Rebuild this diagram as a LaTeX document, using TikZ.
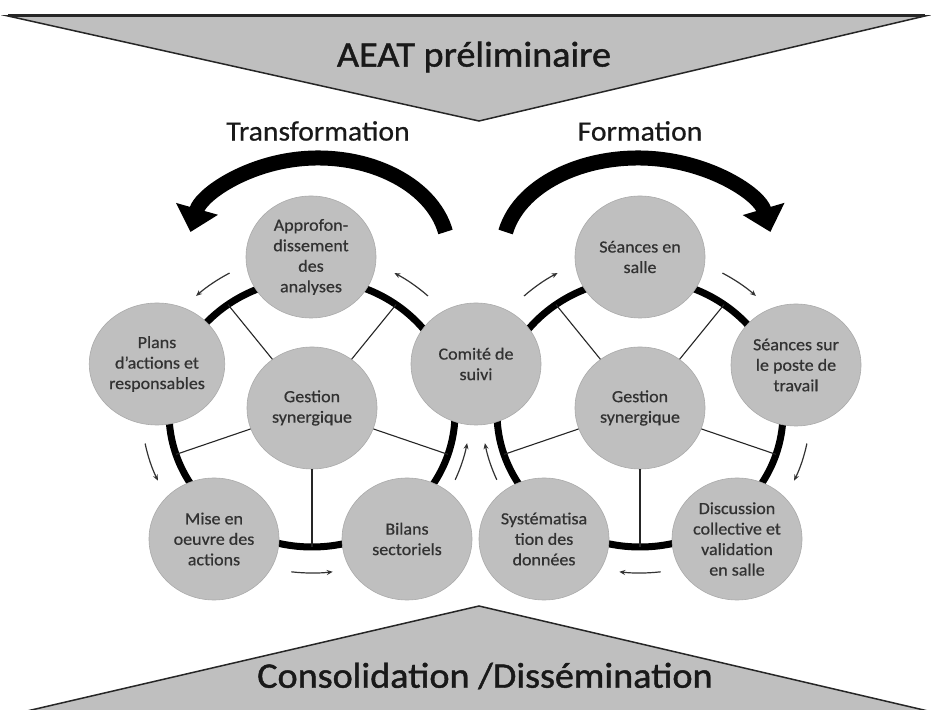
\documentclass[tikz,border=0pt]{standalone}
\usepackage{fontspec}
\setmainfont{Carlito}[FakeStretch=1.06]
\newfontfamily\heavyfont{Carlito}[FakeStretch=1.06,FakeBold=1.2,Ligatures=TeX]
\newfontfamily\midfont{Carlito}[FakeStretch=1.06,FakeBold=0.6,Ligatures=TeX]
\usetikzlibrary{shapes.geometric,arrows.meta}
\definecolor{nodefill}{RGB}{191,191,191}
\definecolor{nodeline}{RGB}{170,170,170}
\definecolor{txt}{RGB}{50,50,50}
\definecolor{titlec}{RGB}{25,25,25}
\begin{document}
\begin{tikzpicture}[x=1pt,y=1pt,
  bub/.style={ellipse, fill=nodefill, draw=nodeline, line width=0.6pt,
    minimum width=130pt, minimum height=122pt, inner sep=0pt, align=center,
    text=txt, font=\midfont\fontsize{17}{20.5}\selectfont},
  ringline/.style={line width=7pt, black},
  spoke/.style={line width=1.1pt, black!85},
  flow/.style={line width=1.2pt, black!80, -{Stealth[length=6pt,width=5pt]}},
  bigarrow/.style={line width=15pt, -{Triangle[length=24pt,width=42pt]}},
  banner/.style={fill=nodefill, draw=black!85, line width=1.5pt, line join=miter},
  bannertext/.style={text=titlec, font=\heavyfont\fontsize{36}{40}\selectfont},
  headtext/.style={text=titlec, font=\midfont\fontsize{28}{32}\selectfont}
]
\useasboundingbox (0,0) rectangle (931,709);
\clip (0,0) rectangle (931,709);
\fill[white] (0,0) rectangle (931,709);

% banners
\draw[banner] (8,693) -- (925,693) -- (479,588) -- cycle;
\draw[line width=3pt, black!85] (8,693) -- (925,693);
\node[bannertext] (aeat) at (474,652) {AEAT préliminaire};
\draw[banner] (27,-2) -- (479,103) -- (928,-2) -- cycle;
\node[bannertext] (cons) at (485,33) {Consolidation /Dissémination};

% headings
\node[headtext] (trans) at (318,578) {Transformation};
\node[headtext] (form) at (640,578) {Formation};

% big arrows
\draw[bigarrow] (318,459) ++(11.3:130pt and 92pt)
  arc[start angle=11.3, end angle=168.7, x radius=130pt, y radius=92pt];
\draw[bigarrow] (638,459) ++(168.7:135pt and 92pt)
  arc[start angle=168.7, end angle=11.3, x radius=135pt, y radius=92pt];

% rings
\coordinate (Lc) at (312,296);
\coordinate (Rc) at (640,296);
\draw[ringline] (Lc) ellipse [x radius=143pt, y radius=134pt];
\draw[ringline] (Rc) ellipse [x radius=143pt, y radius=134pt];
\foreach \a [count=\i] in {54,126,198,270,342}{
  \path (Lc) ++(\a:143pt and 134pt) coordinate (Ls\i);
  \path (Rc) ++(\a:143pt and 134pt) coordinate (Rs\i);
}

% outer nodes
\node[bub] (appro) at (311,452) {Approfon-\\dissement\\des\\analyses};
\node[bub] (plans) at (157,345) {Plans\\d’actions et\\responsables};
\node[bub] (comite) at (476,345) {Comité de\\suivi};
\node[bub] (mise) at (214,170) {Mise en\\oeuvre des\\actions};
\node[bub] (bilans) at (407,170) {Bilans\\sectoriels};
\node[bub] (salle) at (640,452) {Séances en\\salle};
\node[bub] (poste) at (796,344) {Séances sur\\le poste de\\travail};
\node[bub] (discu) at (737,170) {Discussion\\collective et\\validation\\en salle};
\node[bub] (syst) at (544,170) {Systématisa\\tion des\\données};

% centre nodes
\node[bub] (gl) at (312,301) {Gestion\\synergique};
\node[bub] (gr) at (640,301) {Gestion\\synergique};

% spokes
\foreach \i in {1,...,5}{
  \draw[spoke] (gl) -- (Ls\i);
  \draw[spoke] (gr) -- (Rs\i);
}

% small flow arrows, left ring (counter-clockwise)
\draw[flow] (Lc) ++(47:170pt and 160pt) arc[start angle=47, end angle=61, x radius=170pt, y radius=160pt];
\draw[flow] (Lc) ++(119:170pt and 160pt) arc[start angle=119, end angle=133, x radius=170pt, y radius=160pt];
\draw[flow] (Lc) ++(191:170pt and 160pt) arc[start angle=191, end angle=205, x radius=170pt, y radius=160pt];
\draw[flow] (Lc) ++(263:170pt and 160pt) arc[start angle=263, end angle=277, x radius=170pt, y radius=160pt];
\draw[flow] (Lc) ++(335:158pt and 158pt) arc[start angle=335, end angle=349, x radius=158pt, y radius=158pt];
% small flow arrows, right ring (clockwise)
\draw[flow] (Rc) ++(205:158pt and 158pt) arc[start angle=205, end angle=191, x radius=158pt, y radius=158pt];
\draw[flow] (Rc) ++(133:170pt and 160pt) arc[start angle=133, end angle=119, x radius=170pt, y radius=160pt];
\draw[flow] (Rc) ++(61:170pt and 160pt) arc[start angle=61, end angle=47, x radius=170pt, y radius=160pt];
\draw[flow] (Rc) ++(349:170pt and 160pt) arc[start angle=349, end angle=335, x radius=170pt, y radius=160pt];
\draw[flow] (Rc) ++(277:170pt and 160pt) arc[start angle=277, end angle=263, x radius=170pt, y radius=160pt];
\end{tikzpicture}
\end{document}
